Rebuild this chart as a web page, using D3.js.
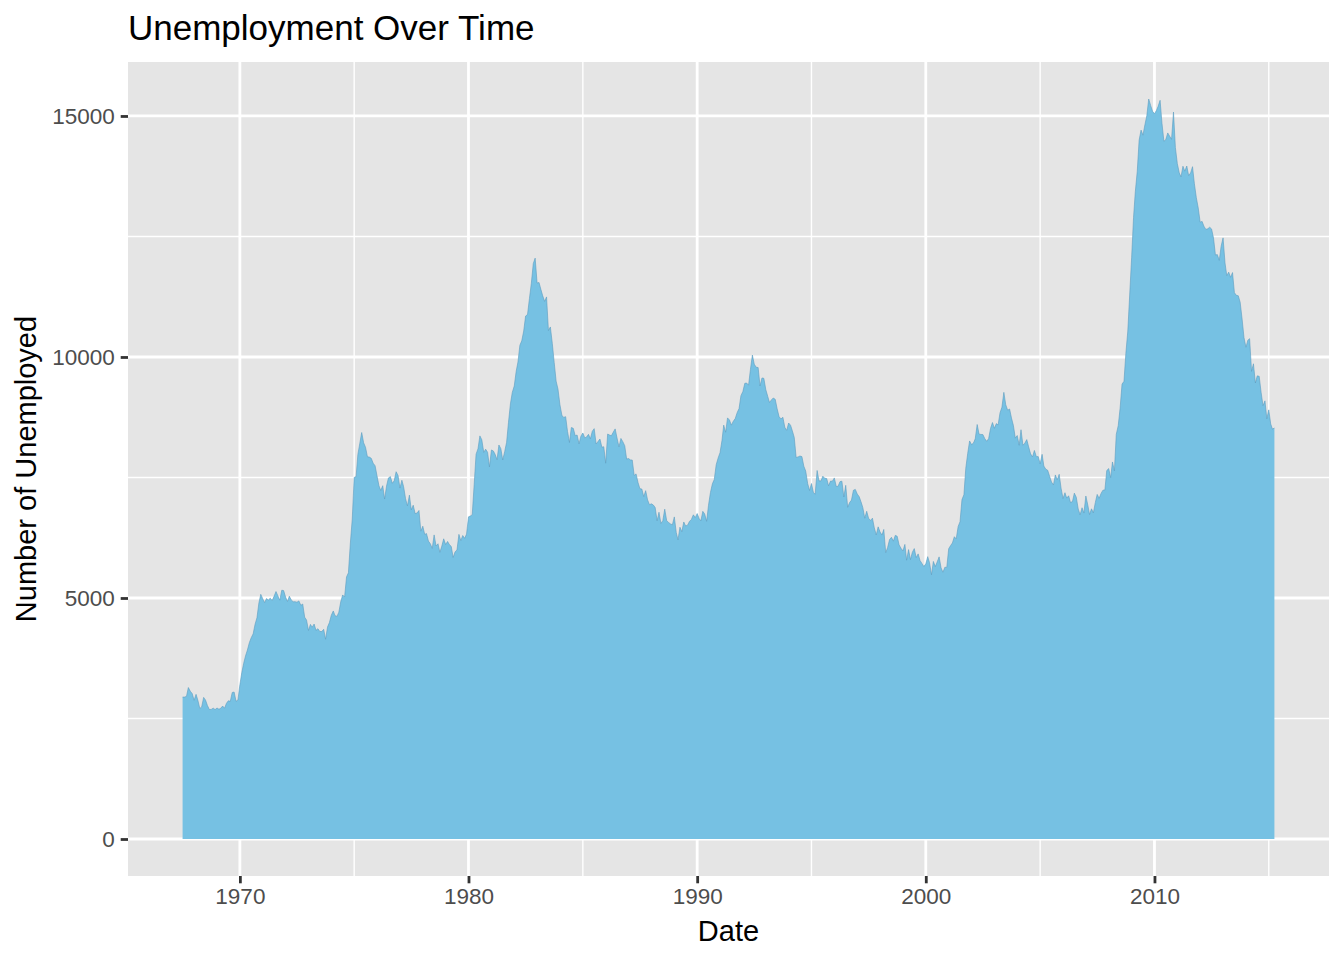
<!DOCTYPE html>
<html>
<head>
<meta charset="utf-8">
<script src="https://cdn.jsdelivr.net/npm/d3@7"></script>
<style>
  html, body { margin: 0; padding: 0; background: #ffffff; }
  svg { display: block; }
  text { font-family: "Liberation Sans", Arial, Helvetica, sans-serif; }
</style>
</head>
<body>
<svg id="chart" width="1344" height="960"></svg>
<script>
// Monthly series start (first observation) - July 1967
const startYear = 1967;
const startMonth = 7;

// Number of unemployed (thousands), monthly, by decade
const u1960s = [
  2944, 2945, 2958, 3143, 3066, 3018,
  2878, 3001, 2877, 2709, 2740, 2938, 2883, 2768, 2686, 2689, 2715, 2685,
  2718, 2692, 2712, 2758, 2713, 2816, 2868, 2856, 3040, 3049, 2856, 2884
];
const u1970s = [
  3201, 3453, 3635, 3797, 3919, 4071, 4175, 4256, 4456, 4591, 4898, 5076,
  4986, 4903, 4987, 4959, 4996, 4949, 5035, 5134, 5042, 4954, 5161, 5154,
  5019, 4928, 5038, 4959, 4922, 4923, 4913, 4939, 4849, 4875, 4602, 4543,
  4326, 4452, 4394, 4459, 4329, 4363, 4305, 4305, 4350, 4144, 4396, 4489,
  4644, 4731, 4634, 4618, 4705, 4927, 5063, 5022, 5437, 5523, 6140, 6636,
  7501, 7520, 7978, 8210, 8433, 8220, 8127, 7928, 7923, 7897, 7794, 7744,
  7534, 7326, 7230, 7330, 7053, 7322, 7490, 7518, 7380, 7430, 7620, 7545,
  7280, 7443, 7307, 7059, 6911, 7134, 6829, 6925, 6751, 6763, 6815, 6386,
  6489, 6318, 6337, 6180, 6127, 6028, 6309, 6080, 6125, 5947, 6077, 6228,
  6109, 6173, 6109, 6069, 5840, 5959, 5996, 6320, 6190, 6296, 6238, 6325
];
const u1980s = [
  6683, 6702, 6729, 7358, 7984, 8098, 8363, 8281, 8021, 8088, 8023, 7718,
  8071, 8051, 7982, 7869, 8174, 8098, 7863, 8036, 8230, 8646, 9029, 9267,
  9397, 9705, 9895, 10244, 10335, 10538, 10849, 10881, 11217, 11529, 11938, 12051,
  11534, 11545, 11408, 11268, 11154, 11246, 10548, 10623, 10282, 9887, 9499, 9331,
  9008, 8791, 8746, 8762, 8456, 8226, 8537, 8519, 8367, 8381, 8198, 8358,
  8423, 8321, 8339, 8395, 8302, 8460, 8513, 8196, 8248, 8298, 8128, 8138,
  7795, 8402, 8383, 8364, 8439, 8508, 8319, 8135, 8310, 8243, 8159, 7883,
  7892, 7865, 7862, 7542, 7574, 7398, 7268, 7261, 7102, 7227, 7035, 6936,
  6953, 6929, 6876, 6601, 6779, 6546, 6605, 6843, 6604, 6568, 6537, 6518,
  6682, 6359, 6205, 6468, 6375, 6577, 6495, 6511, 6590, 6630, 6725, 6667
];
const u1990s = [
  6752, 6651, 6598, 6797, 6742, 6590, 6922, 7188, 7368, 7459, 7764, 7901,
  8015, 8265, 8586, 8439, 8736, 8692, 8586, 8666, 8722, 8842, 8931, 9198,
  9283, 9454, 9460, 9415, 9744, 10040, 9850, 9787, 9781, 9398, 9565, 9557,
  9325, 9183, 9056, 9110, 9149, 9121, 8930, 8763, 8714, 8750, 8542, 8477,
  8630, 8583, 8470, 8331, 7915, 7927, 7946, 7933, 7734, 7632, 7375, 7230,
  7375, 7187, 7153, 7645, 7430, 7427, 7527, 7484, 7478, 7328, 7426, 7423,
  7491, 7313, 7318, 7415, 7423, 7095, 7337, 6882, 6979, 7031, 7236, 7253,
  7158, 7102, 7000, 6873, 6655, 6799, 6655, 6608, 6656, 6454, 6308, 6476,
  6368, 6306, 6422, 5941, 6047, 6212, 6259, 6179, 6300, 6280, 6100, 6032,
  5976, 6111, 5783, 6004, 5796, 5951, 6025, 5838, 5915, 5778, 5716, 5653
];
const u2000s = [
  5708, 5858, 5733, 5481, 5758, 5651, 5747, 5853, 5625, 5534, 5639, 5634,
  6023, 6089, 6141, 6271, 6226, 6484, 6583, 7042, 7142, 7694, 8003, 8258,
  8182, 8215, 8304, 8599, 8399, 8393, 8390, 8304, 8251, 8307, 8520, 8640,
  8520, 8618, 8588, 8842, 8957, 9266, 9011, 8896, 8921, 8732, 8576, 8317,
  8370, 8167, 8491, 8170, 8212, 8286, 8136, 7990, 7927, 8061, 7932, 7934,
  7784, 7980, 7737, 7672, 7651, 7524, 7406, 7345, 7553, 7453, 7566, 7279,
  7064, 7184, 7072, 7120, 6980, 7001, 7175, 7091, 6847, 6727, 6872, 6762,
  7116, 6927, 6731, 6850, 6766, 6979, 7149, 7067, 7170, 7237, 7240, 7645,
  7685, 7497, 7822, 7637, 8395, 8575, 8937, 9438, 9494, 10074, 10538, 11286,
  12058, 12898, 13426, 13853, 14499, 14707, 14601, 14814, 15009, 15352, 15219, 15098
];
const u2010s = [
  15046, 15113, 15202, 15325, 14849, 14474, 14512, 14648, 14579, 14516, 15081, 14348,
  14013, 13820, 13737, 13957, 13855, 13962, 13763, 13818, 13948, 13594, 13302, 13093,
  12797, 12813, 12713, 12646, 12660, 12692, 12656, 12471, 12115, 12124, 12005, 12298,
  12471, 11950, 11689, 11760, 11654, 11751, 11335, 11279, 11270, 11136, 10787, 10404,
  10202, 10349, 10380, 9702, 9859, 9460, 9608, 9599, 9262, 8990, 9090, 8717,
  8903, 8610, 8504, 8526
];

const xTickYears = [1970, 1980, 1990, 2000, 2010];
const xMinorYears = [1975, 1985, 1995, 2005, 2015];
const yTicks = [0, 5000, 10000, 15000];
const yMinor = [2500, 7500, 12500];

const titleText = "Unemployment Over Time";
const xTitle = "Date";
const yTitle = "Number of Unemployed";

const unemploy = [].concat(u1960s, u1970s, u1980s, u1990s, u2000s, u2010s);
const data = unemploy.map((v, i) => ({
  date: new Date(Date.UTC(startYear, startMonth - 1 + i, 1)),
  value: v
}));

// layout
const panel = { left: 128, right: 1329, top: 62, bottom: 876 };

const svg = d3.select("#chart");
svg.append("rect").attr("width", 1344).attr("height", 960).attr("fill", "#ffffff");

// scales with ggplot-like 5% expansion
const dExt = d3.extent(data, d => d.date.getTime());
const dPad = (dExt[1] - dExt[0]) * 0.05;
const x = d3.scaleUtc()
  .domain([new Date(dExt[0] - dPad), new Date(dExt[1] + dPad)])
  .range([panel.left, panel.right]);

const vMax = d3.max(data, d => d.value);
const vMin = 0;
const vPad = (vMax - vMin) * 0.05;
const y = d3.scaleLinear()
  .domain([vMin - vPad, vMax + vPad])
  .range([panel.bottom, panel.top]);

const yr = yv => new Date(Date.UTC(yv, 0, 1));

// panel background
svg.append("rect")
  .attr("x", panel.left).attr("y", panel.top)
  .attr("width", panel.right - panel.left).attr("height", panel.bottom - panel.top)
  .attr("fill", "#E5E5E5");

const grid = svg.append("g");
// minor grid
grid.selectAll("line.xminor").data(xMinorYears.filter(v => x(yr(v)) >= panel.left && x(yr(v)) <= panel.right))
  .enter().append("line")
  .attr("x1", d => x(yr(d))).attr("x2", d => x(yr(d)))
  .attr("y1", panel.top).attr("y2", panel.bottom)
  .attr("stroke", "#ffffff").attr("stroke-width", 1.4);
grid.selectAll("line.yminor").data(yMinor)
  .enter().append("line")
  .attr("y1", d => y(d)).attr("y2", d => y(d))
  .attr("x1", panel.left).attr("x2", panel.right)
  .attr("stroke", "#ffffff").attr("stroke-width", 1.4);
// major grid
grid.selectAll("line.xmajor").data(xTickYears)
  .enter().append("line")
  .attr("x1", d => x(yr(d))).attr("x2", d => x(yr(d)))
  .attr("y1", panel.top).attr("y2", panel.bottom)
  .attr("stroke", "#ffffff").attr("stroke-width", 2.8);
grid.selectAll("line.ymajor").data(yTicks)
  .enter().append("line")
  .attr("y1", d => y(d)).attr("y2", d => y(d))
  .attr("x1", panel.left).attr("x2", panel.right)
  .attr("stroke", "#ffffff").attr("stroke-width", 2.8);

// area
const area = d3.area()
  .x(d => x(d.date))
  .y0(y(0))
  .y1(d => y(d.value));
svg.append("path")
  .datum(data)
  .attr("d", area)
  .attr("fill", "#76C1E3")
  .attr("stroke", "none");
const line = d3.line().x(d => x(d.date)).y(d => y(d.value));
svg.append("path")
  .datum(data)
  .attr("d", line)
  .attr("fill", "none")
  .attr("stroke", "#5C9CC0")
  .attr("stroke-width", 0.6);

// axes
const xAxis = d3.axisBottom(x)
  .tickValues(xTickYears.map(yr))
  .tickFormat(d3.utcFormat("%Y"))
  .tickSize(7.3).tickPadding(5);
const gx = svg.append("g").attr("transform", `translate(0,${panel.bottom})`).call(xAxis);
gx.select(".domain").remove();
gx.selectAll(".tick line").attr("stroke", "#333333").attr("stroke-width", 2.8);
gx.selectAll(".tick text").attr("fill", "#4D4D4D").attr("font-size", "22.5px")
  .attr("font-family", "Liberation Sans, Arial, sans-serif");

const yAxis = d3.axisLeft(y)
  .tickValues(yTicks)
  .tickFormat(d3.format("d"))
  .tickSize(7.3).tickPadding(6);
const gy = svg.append("g").attr("transform", `translate(${panel.left},0)`).call(yAxis);
gy.select(".domain").remove();
gy.selectAll(".tick line").attr("stroke", "#333333").attr("stroke-width", 2.8);
gy.selectAll(".tick text").attr("fill", "#4D4D4D").attr("font-size", "22.5px")
  .attr("font-family", "Liberation Sans, Arial, sans-serif");

// titles
svg.append("text")
  .attr("x", panel.left).attr("y", 40)
  .attr("font-size", "35px").attr("fill", "#000000")
  .text(titleText);

svg.append("text")
  .attr("x", (panel.left + panel.right) / 2).attr("y", 941)
  .attr("text-anchor", "middle")
  .attr("font-size", "29px").attr("fill", "#000000")
  .text(xTitle);

svg.append("text")
  .attr("transform", `translate(36,${(panel.top + panel.bottom) / 2}) rotate(-90)`)
  .attr("text-anchor", "middle")
  .attr("font-size", "29px").attr("fill", "#000000")
  .text(yTitle);
</script>
</body>
</html>
